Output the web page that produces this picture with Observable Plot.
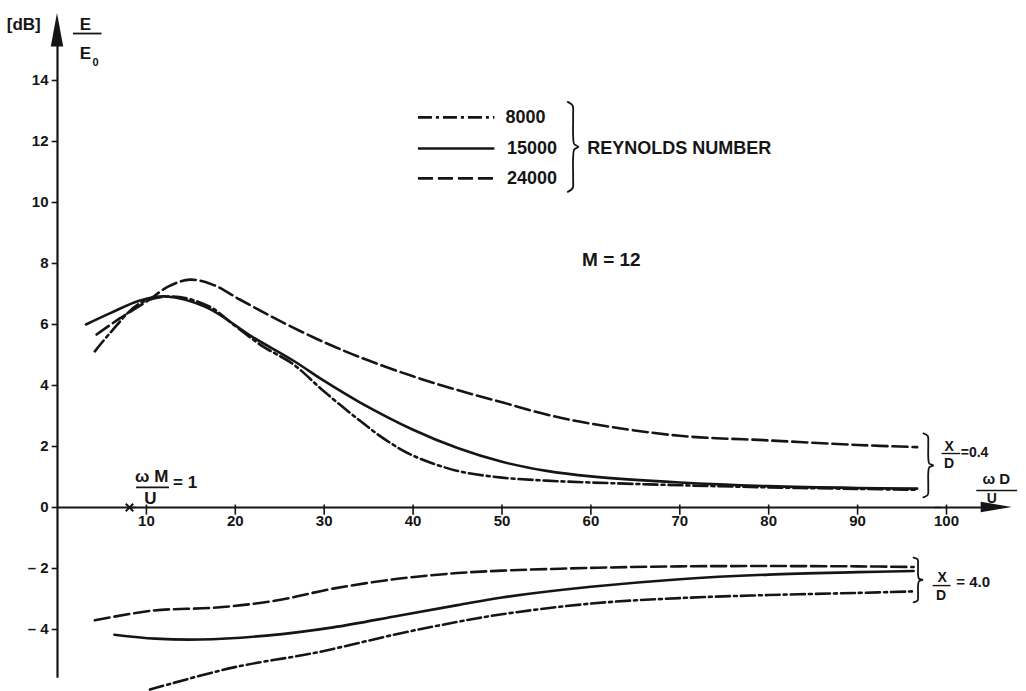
<!DOCTYPE html>
<html><head><meta charset="utf-8">
<script src="https://cdn.jsdelivr.net/npm/d3@7"></script>
<script src="https://cdn.jsdelivr.net/npm/@observablehq/plot@0.6"></script>
<style>html,body{margin:0;padding:0;background:#fff;overflow:hidden}</style>
</head><body><div id="chart"></div>
<script>
// ---- data ----
// X/D = 0.4
const x8000Near = [4.2, 6, 9.2, 13, 17, 20, 23, 26.5, 30, 34, 37, 40, 45, 50, 55, 60, 70, 80, 90, 96.7];
const y8000Near = [5.12, 5.75, 6.68, 6.92, 6.6, 5.95, 5.3, 4.7, 3.8, 2.85, 2.2, 1.7, 1.2, 0.98, 0.88, 0.82, 0.73, 0.66, 0.61, 0.58];
const x15000Near = [3.2, 6, 9.2, 12.2, 16.7, 22, 26.5, 30, 34, 40, 45, 50, 55, 60, 70, 80, 90, 96.7];
const y15000Near = [6.0, 6.38, 6.78, 6.92, 6.57, 5.58, 4.82, 4.15, 3.45, 2.55, 1.95, 1.5, 1.2, 1.02, 0.82, 0.7, 0.64, 0.62];
const x24000Near = [4.4, 7, 10, 12.5, 14.9, 17.5, 20.5, 24.2, 29, 34, 40, 45, 50, 55, 60, 70, 80, 90, 96.7];
const y24000Near = [5.67, 6.2, 6.75, 7.25, 7.47, 7.3, 6.82, 6.24, 5.55, 4.93, 4.3, 3.85, 3.45, 3.05, 2.75, 2.35, 2.2, 2.05, 1.98];
// X/D = 4.0
const x8000Far = [10.4, 19.7, 29.2, 38.5, 45, 50, 60, 70, 80, 90, 96.3];
const y8000Far = [-5.97, -5.25, -4.75, -4.13, -3.75, -3.5, -3.15, -2.97, -2.87, -2.8, -2.75];
const x15000Far = [6.4, 11, 16, 23.5, 31, 38.5, 45, 50, 60, 70, 80, 90, 96.3];
const y15000Far = [-4.17, -4.3, -4.33, -4.2, -3.93, -3.54, -3.2, -2.95, -2.6, -2.35, -2.2, -2.12, -2.08];
const x24000Far = [4.2, 10.7, 17.9, 24.6, 31, 38.5, 45, 50, 60, 70, 80, 90, 96.3];
const y24000Far = [-3.7, -3.38, -3.28, -3.05, -2.66, -2.33, -2.15, -2.07, -1.98, -1.93, -1.92, -1.93, -1.95];

const reynolds = ["8000", "15000", "24000"];
const xTicks = [10, 20, 30, 40, 50, 60, 70, 80, 90, 100];
const yTicks = [14, 12, 10, 8, 6, 4, 2, 0, -2, -4];
const yTickLabels = ["14", "12", "10", "8", "6", "4", "2", "0", "\u2013 2", "\u2013 4"];
const omegaMOverU1 = 8.1;

// ---- build rows ----
const seriesDefs = [
  {re: "8000", xd: "0.4", xs: x8000Near, ys: y8000Near},
  {re: "15000", xd: "0.4", xs: x15000Near, ys: y15000Near},
  {re: "24000", xd: "0.4", xs: x24000Near, ys: y24000Near},
  {re: "8000", xd: "4.0", xs: x8000Far, ys: y8000Far},
  {re: "15000", xd: "4.0", xs: x15000Far, ys: y15000Far},
  {re: "24000", xd: "4.0", xs: x24000Far, ys: y24000Far}
];
const rows = seriesDefs.flatMap(s => s.xs.map((x, i) => ({x, y: s.ys[i], re: s.re, key: s.re + "/" + s.xd})));
const dash = {"8000": "14,4,3,4", "15000": null, "24000": "15,5"};
const ink = "#151515";

// brace helper (decoration shape)
function brace(key, x0, yTop, yBot, w) {
  const mid = (yTop + yBot) / 2, h = (yTop - yBot) / 2;
  const p = [[x0, yTop], [x0 + 0.45 * w, yTop - 0.08 * h], [x0 + 0.5 * w, yTop - 0.3 * h],
    [x0 + 0.5 * w, mid + 0.25 * h], [x0 + 0.6 * w, mid + 0.06 * h], [x0 + w, mid],
    [x0 + 0.6 * w, mid - 0.06 * h], [x0 + 0.5 * w, mid - 0.25 * h],
    [x0 + 0.5 * w, yBot + 0.3 * h], [x0 + 0.45 * w, yBot + 0.08 * h], [x0, yBot]];
  return p.map(([x, y]) => ({x, y, key}));
}
const braces = [
  ...brace("legend", 57.4, 13.3, 10.35, 1.2),
  ...brace("near", 97.4, 2.43, 0.33, 1.1),
  ...brace("far", 96.3, -1.64, -3.11, 1.0)
];

const marks = [];
// axes
marks.push(Plot.ruleY([0], {x1: 0, x2: 104.5, stroke: ink, strokeWidth: 2.2}));
marks.push(Plot.ruleX([0], {y1: -5.6, y2: 15.4, stroke: ink, strokeWidth: 2.2}));
marks.push(Plot.areaY([{x: 103.9, a: -0.17, b: 0.17}, {x: 107.4, a: 0, b: 0}], {x: "x", y1: "a", y2: "b", fill: ink}));
marks.push(Plot.areaX([{y: 15.1, a: -0.7, b: 0.7}, {y: 16.2, a: 0, b: 0}], {y: "y", x1: "a", x2: "b", fill: ink}));
marks.push(Plot.ruleX(xTicks, {x: d => d, y1: -0.25, y2: 0.08, stroke: ink, strokeWidth: 1.6}));
marks.push(Plot.ruleY(yTicks, {y: d => d, x1: -0.6, x2: 0, stroke: ink, strokeWidth: 1.6}));
marks.push(Plot.text(xTicks, {x: d => d, y: 0, dy: 14, text: d => String(d), fontSize: 15, fontWeight: "bold", fill: ink}));
marks.push(Plot.text(yTicks, {x: 0, y: d => d, dx: -9, text: (d, i) => yTickLabels[i], textAnchor: "end", fontSize: 15, fontWeight: "bold", fill: ink}));

// curves
for (const re of reynolds) {
  marks.push(Plot.line(rows.filter(r => r.re === re), {x: "x", y: "y", z: "key", curve: "catmull-rom",
    stroke: ink, strokeWidth: 2.6, strokeDasharray: dash[re]}));
}

// legend
const legendY = {"8000": 12.79, "15000": 11.77, "24000": 10.79};
const legendEnd = {"8000": 54.9, "15000": 56.2, "24000": 56.2};
for (const re of reynolds) {
  marks.push(Plot.ruleY([legendY[re]], {y: d => d, x1: 40.6, x2: 49.2, stroke: ink, strokeWidth: 2.6, strokeDasharray: dash[re]}));
}
marks.push(Plot.text(reynolds, {x: d => legendEnd[d], y: d => legendY[d], text: d => d, textAnchor: "end", fontSize: 18, fontWeight: "bold", fill: ink}));
marks.push(Plot.text(["REYNOLDS NUMBER"], {x: 59.6, y: 11.77, text: d => d, textAnchor: "start", fontSize: 18, fontWeight: "bold", fill: ink}));
marks.push(Plot.line(braces, {x: "x", y: "y", z: "key", curve: "catmull-rom", stroke: ink, strokeWidth: 1.8}));
marks.push(Plot.ruleY([0], {x1: 98.7, x2: 99.4, y1: 1.35, y2: 1.65, stroke: ink, strokeWidth: 1.5}));

// annotations
const bold = {fontWeight: "bold", fill: ink};
marks.push(Plot.text(["M = 12"], {x: 62.3, y: 8.13, text: d => d, fontSize: 19, ...bold}));
marks.push(Plot.text(["[dB]"], {x: -3.8, y: 15.84, text: d => d, fontSize: 17, ...bold}));
marks.push(Plot.text(["E"], {x: 3.15, y: 15.84, text: d => d, fontSize: 17, ...bold}));
marks.push(Plot.ruleY([15.54], {y: d => d, x1: 1.8, x2: 5.0, stroke: ink, strokeWidth: 1.8}));
marks.push(Plot.text(["E"], {x: 3.15, y: 14.9, text: d => d, fontSize: 17, ...bold}));
marks.push(Plot.text(["0"], {x: 3.95, y: 14.6, text: d => d, textAnchor: "start", fontSize: 11, ...bold}));
// ωM/U = 1
marks.push(Plot.dot([omegaMOverU1], {x: d => d, y: 0, symbol: "times", r: 3.5, stroke: ink, strokeWidth: 2}));
marks.push(Plot.text(["\u03c9 M"], {x: 10.6, y: 1.02, text: d => d, fontSize: 17, ...bold}));
marks.push(Plot.ruleY([0.66], {y: d => d, x1: 8.9, x2: 12.6, stroke: ink, strokeWidth: 1.6}));
marks.push(Plot.ruleY([0], {x1: 8.3, x2: 8.9, y1: 0.13, y2: 0.66, stroke: ink, strokeWidth: 1.6}));
marks.push(Plot.text(["U"], {x: 10.46, y: 0.3, text: d => d, fontSize: 17, ...bold}));
marks.push(Plot.text(["= 1"], {x: 13.0, y: 0.82, text: d => d, textAnchor: "start", fontSize: 17, ...bold}));
// ωD/U
marks.push(Plot.text(["\u03c9 D"], {x: 105.6, y: 0.92, text: d => d, fontSize: 15, ...bold}));
marks.push(Plot.ruleY([0.56], {y: d => d, x1: 103.4, x2: 108, stroke: ink, strokeWidth: 1.5}));
marks.push(Plot.text(["U"], {x: 105.1, y: 0.3, text: d => d, fontSize: 14, ...bold}));
// X/D = 0.4
marks.push(Plot.text(["X"], {x: 100.3, y: 2.0, text: d => d, fontSize: 14, ...bold}));
marks.push(Plot.ruleY([1.77], {y: d => d, x1: 99.5, x2: 101.6, stroke: ink, strokeWidth: 1.4}));
marks.push(Plot.text(["D"], {x: 100.3, y: 1.45, text: d => d, fontSize: 14, ...bold}));
marks.push(Plot.text(["=0.4"], {x: 101.6, y: 1.8, text: d => d, textAnchor: "start", fontSize: 14, ...bold}));
// X/D = 4.0
marks.push(Plot.text(["X"], {x: 99.5, y: -2.3, text: d => d, fontSize: 14, ...bold}));
marks.push(Plot.ruleY([-2.56], {y: d => d, x1: 98.5, x2: 100.5, stroke: ink, strokeWidth: 1.4}));
marks.push(Plot.text(["D"], {x: 99.4, y: -2.9, text: d => d, fontSize: 14, ...bold}));
marks.push(Plot.text(["= 4.0"], {x: 101.1, y: -2.45, text: d => d, textAnchor: "start", fontSize: 15, ...bold}));

const chart = Plot.plot({
  width: 1026, height: 691, margin: 0,
  x: {domain: [0, 100], range: [57, 946], axis: null},
  y: {domain: [-6, 16], range: [690, 19], axis: null},
  style: {fontFamily: "'Liberation Sans', Arial, sans-serif", background: "#fff", color: ink},
  marks
});
document.getElementById("chart").appendChild(chart);
</script></body></html>
